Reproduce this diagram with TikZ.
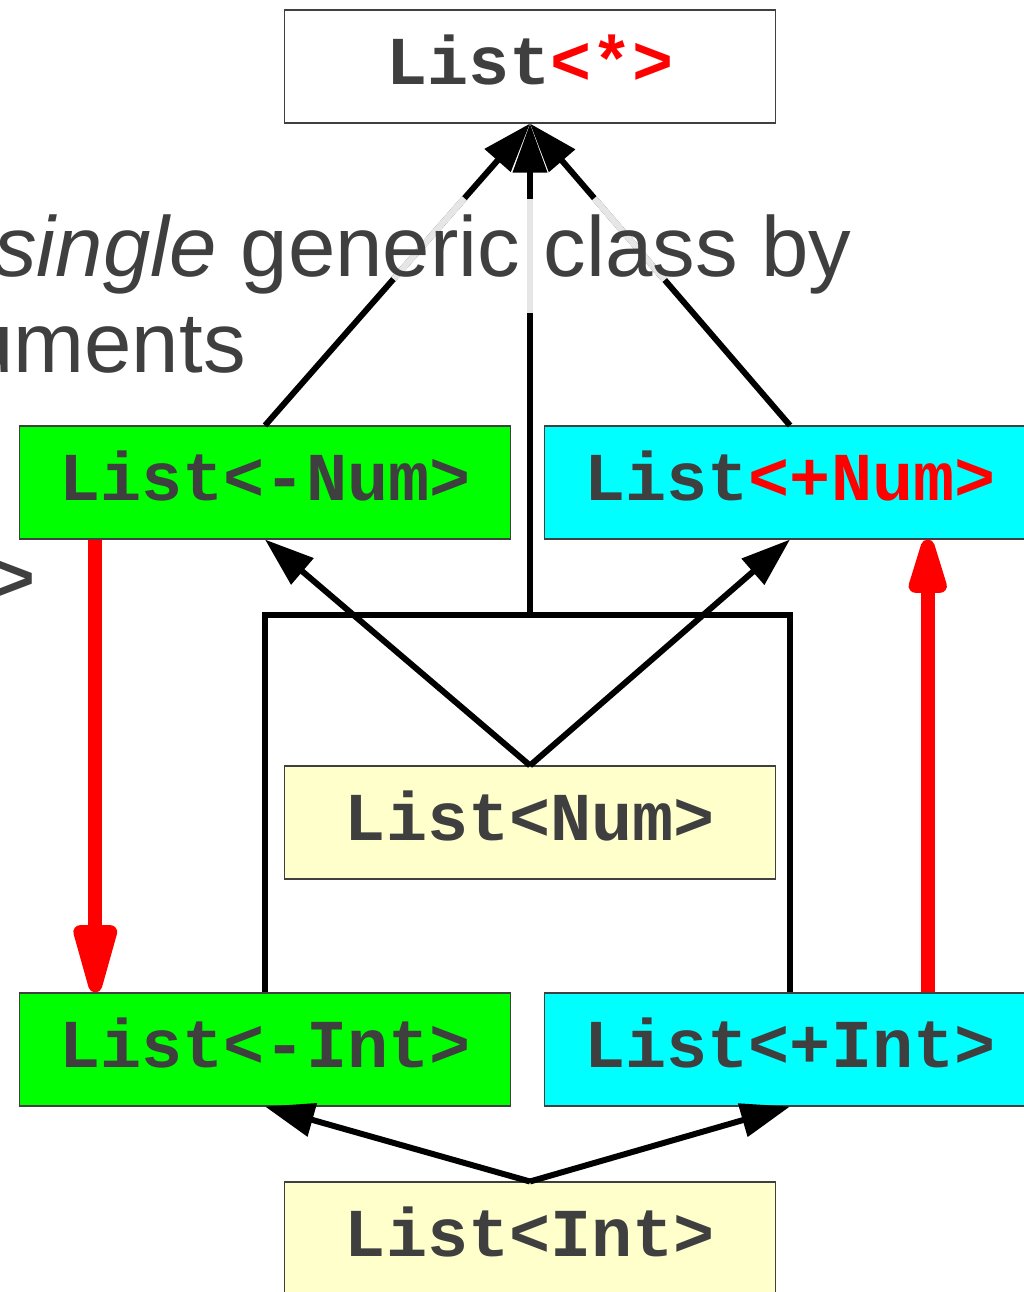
\documentclass[tikz,border=0pt]{standalone}
\usepackage{fontspec}
\setmainfont{Liberation Sans}
\newfontfamily\codefont{Liberation Mono}
\usetikzlibrary{arrows.meta,calc}
\definecolor{txt}{HTML}{3F3F3F}
\definecolor{boxgreen}{HTML}{00FF00}
\definecolor{boxcyan}{HTML}{00FFFF}
\definecolor{boxyellow}{HTML}{FFFFCC}
\definecolor{fadeline}{HTML}{E6E6E6}
\definecolor{edge}{HTML}{404040}
\tikzset{
  box/.style={draw=edge, line width=0.6pt, minimum width=9.82cm, minimum height=2.26cm,
    inner sep=0pt, text height=20.5pt, text depth=0pt,
    font=\codefont\bfseries\fontsize{39}{39}\selectfont, text=txt},
  conn/.style={line width=3.4pt, -{Triangle[length=28pt,width=19pt]}},
  frameline/.style={line width=3.4pt},
  redconn/.style={line width=7.9pt, draw=red, fill=red},
  fade/.style={line width=3.6pt, draw=fadeline},
  bgtext/.style={inner sep=0pt, text=txt, font=\fontsize{48.5}{58}\selectfont},
}
\begin{document}
\begin{tikzpicture}[x=0.02cm,y=-0.02cm]
\path[use as bounding box] (0,0) rectangle (1024,1292);
\clip (0,0) rectangle (1024,1292);

% boxes
\node[box, fill=white] (top) at (530,66.5) {List\textcolor{red}{<*>}};
\node[box, fill=boxgreen] (lNum) at (265,482.5) {List<-Num>};
\node[box, fill=boxcyan] (pNum) at (790,482.5) {List\textcolor{red}{<+Num>}};
\node[box, fill=boxyellow] (num) at (530,822.5) {List<Num>};
\node[box, fill=boxgreen] (lInt) at (265,1049.5) {List<-Int>};
\node[box, fill=boxcyan] (pInt) at (790,1049.5) {List<+Int>};
\node[box, fill=boxyellow] (int) at (530,1238.5) {List<Int>};

% connectors to List<*>
\coordinate (j) at (530,615);
\draw[conn] (lNum.north) -- (top.south);
\draw[conn] (pNum.north) -- (top.south);
\draw[conn] (j) -- (top.south);
\draw[frameline] (lInt.north) -- (lInt.north |- j) -- (pInt.north |- j) -- (pInt.north);

% faded portions behind the text
\draw[fade] ($(lNum.north)!0.7525!(top.south)$) -- ($(lNum.north)!0.485!(top.south)$);
\draw[fade] ($(pNum.north)!0.7525!(top.south)$) -- ($(pNum.north)!0.482!(top.south)$);
\draw[fade] ($(j)!0.847!(top.south)$) -- ($(j)!0.614!(top.south)$);

% List<Num> and List<Int> arrows
\draw[conn] (num.north) -- (lNum.south);
\draw[conn] (num.north) -- (pNum.south);
\draw[conn] (int.north) -- (lInt.south);
\draw[conn] (int.north) -- (pInt.south);

% red arrows
\draw[redconn, -{Triangle[length=51pt,width=25pt,round]}]
  ($(lNum.south west)!0.155!(lNum.south east)$) -- ($(lInt.north west)!0.155!(lInt.north east)$);
\draw[redconn, -{Triangle[length=42pt,width=22pt,round]}]
  ($(pInt.north west)!0.78!(pInt.north east)$) -- ($(pNum.south west)!0.78!(pNum.south east)$);

% background slide text
\node[bgtext, anchor=base west] (bg1) at (-6,276) {\textit{single} generic class by};
\node[bgtext, anchor=base east] (bg2) at (246,372) {uments};
\node[inner sep=0pt, text=txt, font=\codefont\bfseries\fontsize{39}{39}\selectfont, anchor=base west] (gt) at (-6,601) {>};
\end{tikzpicture}
\end{document}
